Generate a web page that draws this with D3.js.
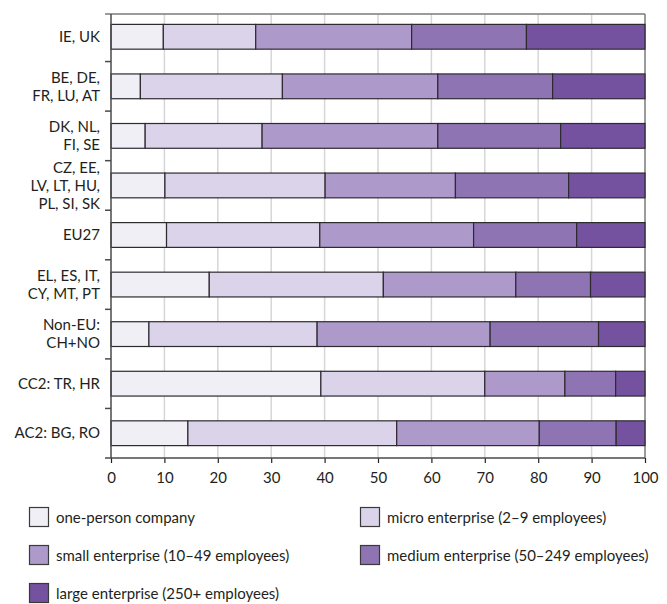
<!DOCTYPE html>
<html>
<head>
<meta charset="utf-8">
<script src="https://cdn.jsdelivr.net/npm/d3@7"></script>
<style>
  html, body { margin: 0; padding: 0; background: #fff; }
  svg { display: block; }
  text { font-family: Lato, "Open Sans", sans-serif; fill: #231f20; }
</style>
</head>
<body>
<svg id="chart" width="667" height="604"></svg>
<script>
const categories = [
  ["IE, UK"],
  ["BE, DE,", "FR, LU, AT"],
  ["DK, NL,", "FI, SE"],
  ["CZ, EE,", "LV, LT, HU,", "PL, SI, SK"],
  ["EU27"],
  ["EL, ES, IT,", "CY, MT, PT"],
  ["Non-EU:", "CH+NO"],
  ["CC2: TR, HR"],
  ["AC2: BG, RO"]
];
const seriesNames = [
  "one-person company",
  "micro enterprise (2–9 employees)",
  "small enterprise (10–49 employees)",
  "medium enterprise (50–249 employees)",
  "large enterprise (250+ employees)"
];
const onePerson = [9.8, 5.5, 6.4, 10.1, 10.4, 18.4, 7.1, 39.3, 14.4];
const micro     = [17.3, 26.6, 21.9, 30.0, 28.7, 32.6, 31.5, 30.7, 39.1];
const small     = [29.2, 29.1, 32.9, 24.4, 28.8, 24.8, 32.4, 15.0, 26.7];
const medium    = [21.5, 21.5, 23.0, 21.2, 19.3, 14.0, 20.3, 9.5, 14.4];
const large     = [22.2, 17.3, 15.8, 14.3, 12.8, 10.2, 8.7, 5.5, 5.4];
const xTicks = [0, 10, 20, 30, 40, 50, 60, 70, 80, 90, 100];
const colors = ["#f1eff6", "#dad3e9", "#ad9acb", "#8e74b2", "#74529f"];

(function () {
const series = [onePerson, micro, small, medium, large];
const rows = categories.map((c, i) => {
  const r = { idx: i };
  series.forEach((s, k) => r["s" + k] = s[i]);
  return r;
});
const keys = series.map((_, k) => "s" + k);
const stacked = d3.stack().keys(keys)(rows);

const svg = d3.select("#chart");
const pL = 111, pR = 645, pT = 14, pB = 458, bandTop = 12;

const x = d3.scaleLinear().domain([0, 100]).range([pL, pR]);
const y = d3.scaleBand().domain(d3.range(categories.length)).range([bandTop, pB]).paddingInner(0.5).paddingOuter(0.25);

// gridlines
svg.append("g").selectAll("line").data(xTicks.slice(1, -1)).join("line")
  .attr("x1", d => x(d)).attr("x2", d => x(d))
  .attr("y1", pT).attr("y2", pB)
  .attr("stroke", "#d6d6d6").attr("stroke-width", 1.5);

// frame top & right
svg.append("line").attr("x1", 105).attr("x2", pR).attr("y1", pT).attr("y2", pT)
  .attr("stroke", "#7a7a7a").attr("stroke-width", 1.5);
svg.append("line").attr("x1", pR).attr("x2", pR).attr("y1", pT).attr("y2", pB)
  .attr("stroke", "#7a7a7a").attr("stroke-width", 1.5);

// bars
const barG = svg.append("g");
stacked.forEach((layer, k) => {
  barG.append("g").selectAll("rect").data(layer).join("rect")
    .attr("x", d => x(d[0]))
    .attr("width", d => x(d[1]) - x(d[0]))
    .attr("y", (d, i) => y(i))
    .attr("height", y.bandwidth())
    .attr("fill", colors[k])
    .attr("stroke", "#2e2a30")
    .attr("stroke-width", 1.2);
});

// left axis line and category ticks
const step = (pB - bandTop) / categories.length;
svg.append("line").attr("x1", pL).attr("x2", pL).attr("y1", pT).attr("y2", pB)
  .attr("stroke", "#4a4a4a").attr("stroke-width", 1.5);
svg.append("g").selectAll("line").data(d3.range(1, categories.length)).join("line")
  .attr("x1", 105).attr("x2", pL)
  .attr("y1", d => bandTop + d * step).attr("y2", d => bandTop + d * step)
  .attr("stroke", "#4a4a4a").attr("stroke-width", 1.5);

// category labels
const lab = svg.append("g");
categories.forEach((lines, i) => {
  const cy = y(i) + y.bandwidth() / 2;
  const lh = 18;
  lines.forEach((ln, j) => {
    lab.append("text").attr("text-anchor", "end").attr("font-size", 15)
      .attr("x", 100)
      .attr("y", cy + (j - (lines.length - 1) / 2) * lh)
      .attr("dy", "0.35em").text(ln);
  });
});

// bottom axis
const xAxis = d3.axisBottom(x).tickValues(xTicks).tickSize(5).tickPadding(9).tickSizeOuter(0);
const ax = svg.append("g").attr("transform", `translate(0,${pB})`).call(xAxis);
ax.select(".domain").remove();
ax.selectAll(".tick line").attr("stroke", "#222").attr("stroke-width", 1.2);
ax.selectAll("text").attr("font-size", 15).attr("fill", "#231f20")
  .style("font-family", "Lato, sans-serif");
svg.append("line").attr("x1", 105).attr("x2", pR).attr("y1", pB).attr("y2", pB)
  .attr("stroke", "#4a4a4a").attr("stroke-width", 1.5);

// legend
const legendPos = [
  [29, 507], [360, 507],
  [29, 545], [360, 545],
  [29, 583]
];
const lg = svg.append("g");
seriesNames.forEach((name, k) => {
  const [lx, ly] = legendPos[k];
  lg.append("rect").attr("x", lx + 0.5).attr("y", ly + 0.5).attr("width", 19).attr("height", 19)
    .attr("fill", colors[k]).attr("stroke", "#3a3a3a").attr("stroke-width", 1.2);
  lg.append("text").attr("x", lx + 27).attr("y", ly + 11).attr("dy", "0.35em")
    .attr("font-size", 15).text(name);
});
})();
</script>
</body>
</html>
